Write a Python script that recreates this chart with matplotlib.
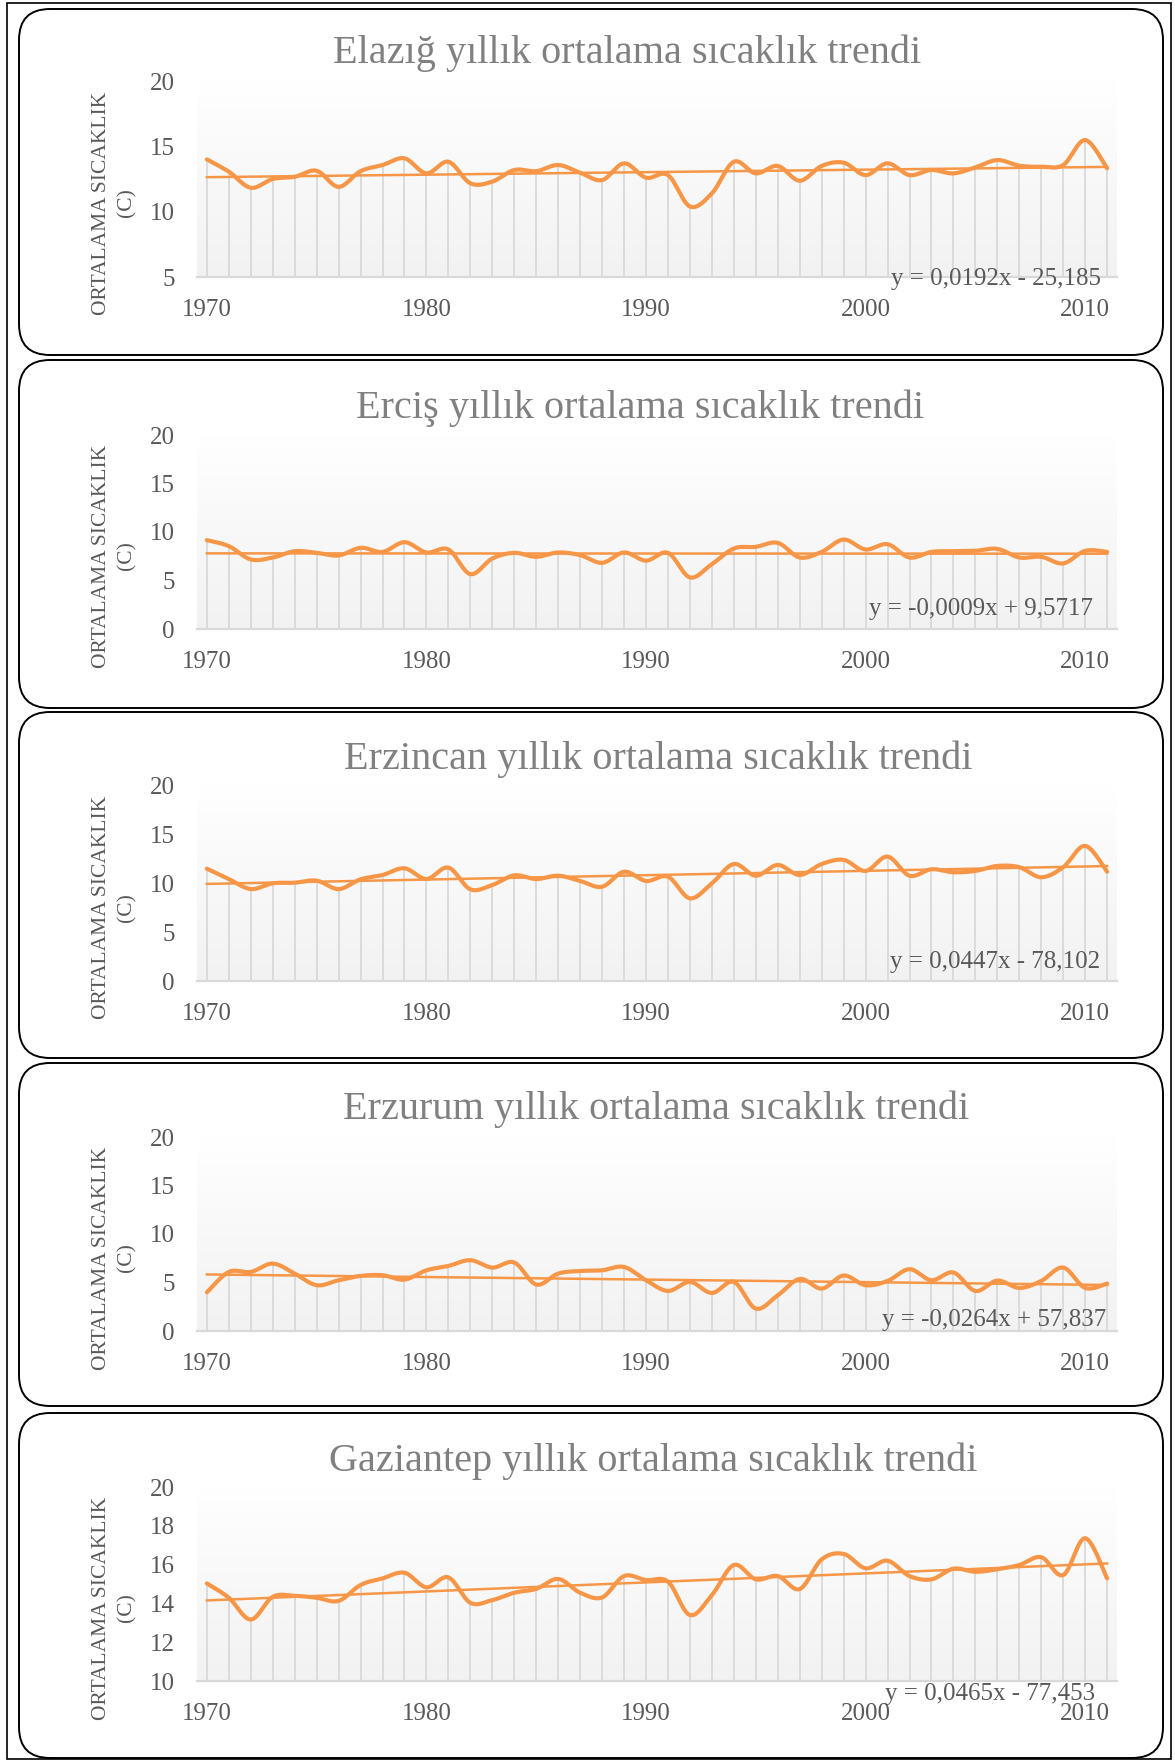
import numpy as np
import matplotlib.pyplot as plt
from matplotlib.patches import FancyBboxPatch, Rectangle
from matplotlib.colors import LinearSegmentedColormap

plt.rcParams['font.family'] = ['Liberation Serif', 'DejaVu Serif']

W, H = 1175, 1762

# yillar
years = np.arange(1970, 2012)

# yillik ortalama sicakliklar
elazig = [14.0, 13.06, 11.83, 12.5, 12.67, 13.13, 11.9, 13.1, 13.57, 14.08,
          12.93, 13.82, 12.17, 12.3, 13.19, 13.1, 13.57, 12.98, 12.42, 13.7,
          12.6, 12.8, 10.4, 11.4, 13.82, 12.93, 13.5, 12.37, 13.5, 13.75,
          12.8, 13.7, 12.8, 13.19, 12.93, 13.39, 13.95, 13.52, 13.44, 13.57,
          15.48, 13.32]
ercis = [9.16, 8.54, 7.17, 7.37, 8.02, 7.85, 7.58, 8.37, 7.95, 8.95,
         7.89, 8.2, 5.66, 7.27, 7.85, 7.44, 7.89, 7.61, 6.82, 7.89,
         7.05, 7.85, 5.32, 6.69, 8.3, 8.47, 8.88, 7.37, 7.95, 9.22,
         8.2, 8.74, 7.37, 7.95, 8.02, 8.06, 8.26, 7.37, 7.44, 6.76,
         8.06, 7.95]
erzincan = [11.52, 10.46, 9.43, 10.02, 10.08, 10.29, 9.43, 10.43, 10.87, 11.56,
            10.46, 11.63, 9.4, 9.85, 10.84, 10.46, 10.8, 10.26, 9.67, 11.21,
            10.26, 10.7, 8.48, 10.02, 12.0, 10.8, 11.9, 10.87, 12.0, 12.42,
            11.29, 12.76, 10.8, 11.46, 11.15, 11.29, 11.8, 11.67, 10.64, 11.67,
            13.86, 11.21]
erzurum = [3.99, 6.09, 6.09, 6.95, 5.92, 4.72, 5.23, 5.68, 5.75, 5.3,
           6.26, 6.71, 7.3, 6.54, 7.06, 4.79, 5.92, 6.19, 6.26, 6.6,
           5.23, 4.13, 5.06, 3.92, 5.06, 2.31, 3.68, 5.37, 4.37, 5.72,
           4.72, 5.16, 6.37, 5.23, 6.03, 4.13, 5.2, 4.44, 5.16, 6.54,
           4.44, 4.89]
gaziantep = [15.03, 14.29, 13.17, 14.34, 14.39, 14.29, 14.13, 14.95, 15.29, 15.58,
             14.83, 15.34, 14.03, 14.17, 14.55, 14.75, 15.26, 14.55, 14.31, 15.41,
             15.2, 15.12, 13.4, 14.43, 15.98, 15.24, 15.41, 14.74, 16.27, 16.55,
             15.81, 16.2, 15.41, 15.24, 15.79, 15.63, 15.76, 15.98, 16.38, 15.46,
             17.36, 15.29]

series = [elazig, ercis, erzincan, erzurum, gaziantep]
titles = ['Elazığ yıllık ortalama sıcaklık trendi',
          'Erciş yıllık ortalama sıcaklık trendi',
          'Erzincan yıllık ortalama sıcaklık trendi',
          'Erzurum yıllık ortalama sıcaklık trendi',
          'Gaziantep yıllık ortalama sıcaklık trendi']
slopes = [0.0192, -0.0009, 0.0447, -0.0264, 0.0465]
intercepts = [-25.185, 9.5717, -78.102, 57.837, -77.453]
equations = ['y = 0,0192x - 25,185', 'y = -0,0009x + 9,5717',
             'y = 0,0447x - 78,102', 'y = -0,0264x + 57,837',
             'y = 0,0465x - 77,453']
yticks = [[5, 10, 15, 20], [0, 5, 10, 15, 20], [0, 5, 10, 15, 20],
          [0, 5, 10, 15, 20], [10, 12, 14, 16, 18, 20]]
xticks = [1970, 1980, 1990, 2000, 2010]

# yerlesim (piksel)
panel_tb = [(9, 355), (360, 708), (712, 1058), (1063, 1406), (1413, 1758)]
axes_tb = [(81, 277), (435, 629), (786, 981), (1137, 1331), (1487, 1681)]
title_xy = [(627, 53), (640, 408), (658, 759), (656, 1109), (653, 1461)]
eq_xy = [(1101, 279), (1093, 609), (1100, 962), (1106, 1320), (1095, 1694)]

ORANGE = '#f79646'
GRID = '#d9d9d9'
TXT = '#595959'


def smooth(x, y, n=16):
    # Excel'deki yumusatilmis cizgiye benzer catmull-rom egrisi
    x = np.asarray(x, float)
    y = np.asarray(y, float)
    px = np.concatenate([[x[0]], x, [x[-1]]])
    py = np.concatenate([[y[0]], y, [y[-1]]])
    t = np.linspace(0, 1, n, endpoint=False)[:, None]
    xs, ys = [], []
    for i in range(1, len(px) - 2):
        for p, out in ((px, xs), (py, ys)):
            p0, p1, p2, p3 = p[i - 1], p[i], p[i + 1], p[i + 2]
            v = 0.5 * ((2 * p1) + (-p0 + p2) * t + (2 * p0 - 5 * p1 + 4 * p2 - p3) * t ** 2
                       + (-p0 + 3 * p1 - 3 * p2 + p3) * t ** 3)
            out.extend(v.ravel())
    xs.append(x[-1])
    ys.append(y[-1])
    return np.array(xs), np.array(ys)


fig = plt.figure(figsize=(W / 100, H / 100), dpi=100)

# dis cerceve
fig.add_artist(Rectangle((7 / 100, (H - 1759) / 100), 1164 / 100, 1756 / 100,
                         transform=fig.dpi_scale_trans, fill=False, ec='black',
                         lw=1.2, zorder=-2))

grad = LinearSegmentedColormap.from_list('g', [(0, '#f2f2f2'), (0.72, '#fbfbfb'), (1, '#ffffff')])

for k in range(5):
    top, bot = panel_tb[k]
    fig.add_artist(FancyBboxPatch((19 / 100, (H - bot) / 100), 1144 / 100, (bot - top) / 100,
                                  boxstyle='round,pad=0,rounding_size=0.31',
                                  transform=fig.dpi_scale_trans, fc='white', ec='black',
                                  lw=1.4, zorder=-1))

    at, ab = axes_tb[k]
    ax = fig.add_axes([197 / W, 1 - ab / H, 920 / W, (ab - at) / H])
    ax.set_facecolor('none')
    ax.imshow(np.linspace(0, 1, 256).reshape(-1, 1), cmap=grad, aspect='auto',
              extent=[0, 1, 0, 1], transform=ax.transAxes, origin='lower', zorder=0)

    vals = np.array(series[k])
    y0 = yticks[k][0]
    ax.vlines(years, y0, vals, color=GRID, lw=1.3, zorder=1)
    trend = slopes[k] * years + intercepts[k]
    ax.plot(years, trend, color=ORANGE, lw=1.8, zorder=2)
    sx, sy = smooth(years, vals)
    ax.plot(sx, sy, color=ORANGE, lw=3.0, solid_capstyle='round', zorder=3)

    ax.set_xlim(1969.55, 2011.45)
    ax.set_ylim(y0, yticks[k][-1])
    ax.set_xticks(xticks)
    ax.set_yticks(yticks[k])
    for s in ['top', 'right', 'left']:
        ax.spines[s].set_visible(False)
    ax.spines['bottom'].set_color(GRID)
    ax.spines['bottom'].set_linewidth(1.6)
    ax.tick_params(length=0, labelsize=18, labelcolor=TXT)
    ax.tick_params(axis='x', pad=15.5)
    ax.tick_params(axis='y', pad=16)

    tx, ty = title_xy[k]
    fig.text(tx / W, 1 - ty / H, titles[k], fontsize=29, color='#808080',
             ha='center', va='center')
    ex, ey = eq_xy[k]
    fig.text(ex / W, 1 - ey / H, equations[k], fontsize=18, color=TXT,
             ha='right', va='center')
    fig.text(114 / W, 1 - ((at + ab) / 2 + 24) / H, 'ORTALAMA SICAKLIK\n(C)',
             fontsize=15.5, color=TXT, rotation=90, ha='center', va='center',
             multialignment='center', linespacing=1.45)

fig.savefig('out.png', dpi=100)
